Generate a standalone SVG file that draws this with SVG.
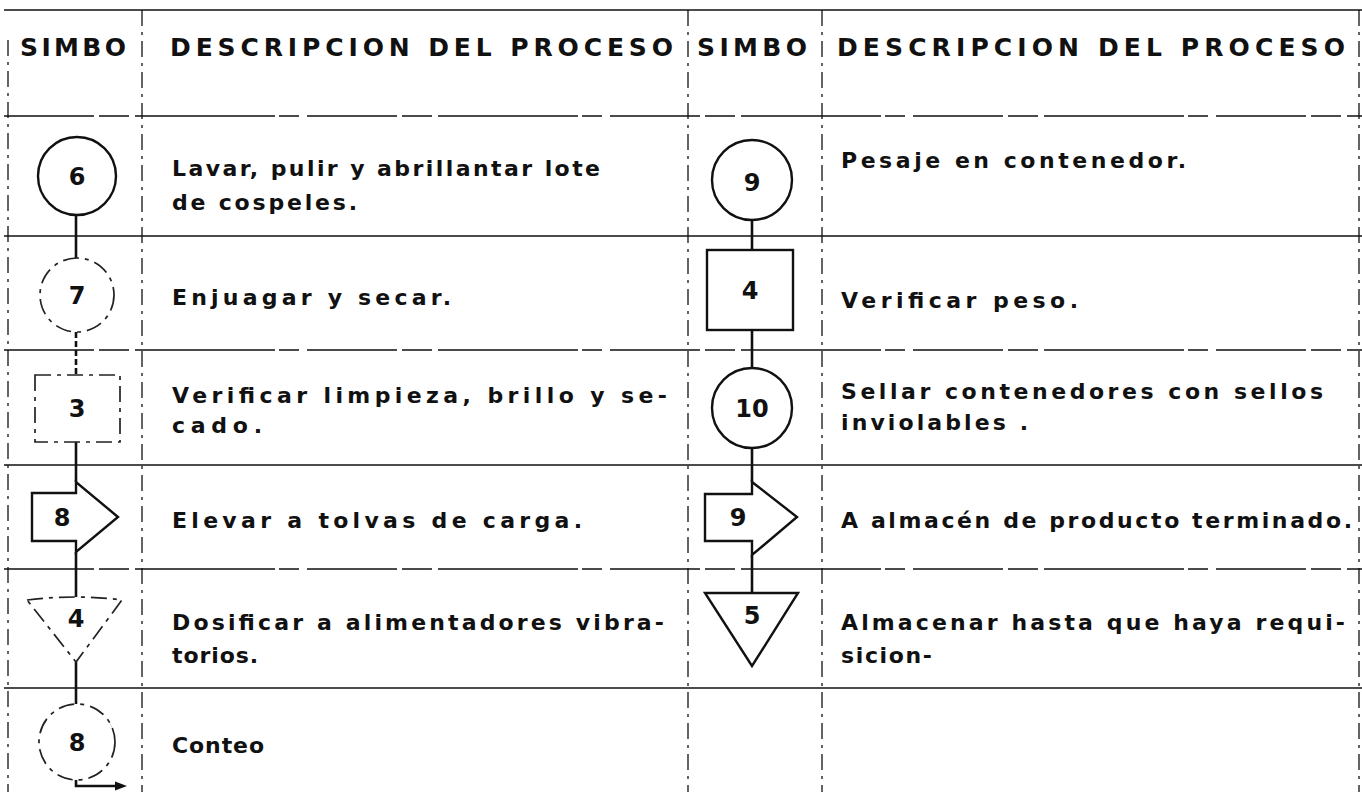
<svg xmlns="http://www.w3.org/2000/svg" width="1362" height="792" viewBox="0 0 1362 792">
<style>
.grid{stroke:#111;stroke-width:1.7;fill:none}
.hd{stroke-dasharray:90 5 30 6 140 4 20 8}
.vd{stroke:#111;stroke-width:1.3;fill:none;stroke-dasharray:16 6 3 6}
.sym{stroke:#111;stroke-width:2.4;fill:#fff}
.faint{stroke:#222;stroke-width:1.7;fill:#fff;stroke-dasharray:16 6 4 6}
.con{stroke:#111;stroke-width:2.6;fill:none}
.t{font-family:"DejaVu Sans","Liberation Sans",sans-serif;font-weight:bold;font-size:22px;fill:#111}
.h{font-family:"DejaVu Sans","Liberation Sans",sans-serif;font-weight:bold;font-size:25px;fill:#111}
.n{font-family:"DejaVu Sans","Liberation Sans",sans-serif;font-weight:bold;font-size:24px;fill:#111;text-anchor:middle}
</style>
<defs>
<marker id="ah" markerWidth="12" markerHeight="12" refX="7" refY="6" orient="auto" markerUnits="userSpaceOnUse">
<path d="M0,1.5 L12,6 L0,10.5 Z" fill="#111"/>
</marker>
</defs>
<rect width="1362" height="792" fill="#fff"/>
<g id="grid">
<line class="grid" x1="4" y1="10" x2="1362" y2="10"/>
<line class="grid hd" x1="4" y1="116" x2="1362" y2="116"/>
<line class="grid" x1="4" y1="236" x2="1362" y2="236"/>
<line class="grid hd" x1="4" y1="350" x2="1362" y2="350"/>
<line class="grid" x1="4" y1="465" x2="1362" y2="465"/>
<line class="grid hd" x1="4" y1="569" x2="1362" y2="569"/>
<line class="grid" x1="4" y1="688" x2="1362" y2="688"/>
<line class="vd" x1="8" y1="40" x2="8" y2="792"/>
<line class="vd" x1="142" y1="10" x2="142" y2="792"/>
<line class="vd" x1="688" y1="10" x2="688" y2="792"/>
<line class="vd" x1="822" y1="10" x2="822" y2="792"/>
<line class="vd" x1="1359" y1="10" x2="1359" y2="792"/>
</g>
<g id="header">
<text class="h" x="20" y="56" textLength="106" lengthAdjust="spacing">SIMBO</text>
<text class="h" x="170" y="56" textLength="503" lengthAdjust="spacing">DESCRIPCION DEL PROCESO</text>
<text class="h" x="697" y="56" textLength="110" lengthAdjust="spacing">SIMBO</text>
<text class="h" x="837" y="56" textLength="508" lengthAdjust="spacing">DESCRIPCION DEL PROCESO</text>
</g>
<g id="connectors">
<line class="con" x1="76" y1="215" x2="76" y2="258"/>
<line class="con" x1="76" y1="332" x2="76" y2="375" stroke-dasharray="6 3"/>
<line class="con" x1="76" y1="442" x2="76" y2="482"/>
<line class="con" x1="76" y1="552" x2="76" y2="600"/>
<line class="con" x1="76" y1="662" x2="76" y2="704"/>
<path class="con" d="M76,780 V786 H122" marker-end="url(#ah)"/>
<line class="con" x1="752" y1="220" x2="752" y2="250"/>
<line class="con" x1="752" y1="330" x2="752" y2="368"/>
<line class="con" x1="752" y1="448" x2="752" y2="482"/>
<line class="con" x1="752" y1="555" x2="752" y2="593"/>
</g>
<g id="node-op6">
<circle class="sym" cx="77" cy="176" r="39"/>
<text class="n" x="77" y="185">6</text>
<text class="t" x="172" y="176" textLength="428" lengthAdjust="spacing">Lavar, pulir y abrillantar lote</text>
<text class="t" x="172" y="210" textLength="185" lengthAdjust="spacing">de cospeles.</text>
</g>
<g id="node-op7">
<circle class="faint" cx="77" cy="295" r="37"/>
<text class="n" x="77" y="304">7</text>
<text class="t" x="172" y="305" textLength="279" lengthAdjust="spacing">Enjuagar y secar.</text>
</g>
<g id="node-insp3">
<rect class="faint" x="35" y="375" width="85" height="67"/>
<text class="n" x="77" y="417">3</text>
<text class="t" x="172" y="403" textLength="495" lengthAdjust="spacing">Verificar limpieza, brillo y se-</text>
<text class="t" x="172" y="433" textLength="90" lengthAdjust="spacing">cado.</text>
</g>
<g id="node-tr8">
<path class="sym" d="M76,493 H32 V541 H76 V552 L118,517 L76,482 Z"/>
<text class="n" x="62" y="526">8</text>
<text class="t" x="172" y="528" textLength="410" lengthAdjust="spacing">Elevar a tolvas de carga.</text>
</g>
<g id="node-alm4">
<path class="faint" d="M27,600 Q76,594 122,600 L76,662 Z"/>
<text class="n" x="76" y="627">4</text>
<text class="t" x="172" y="630" textLength="492" lengthAdjust="spacing">Dosificar a alimentadores vibra-</text>
<text class="t" x="172" y="663" textLength="86" lengthAdjust="spacing">torios.</text>
</g>
<g id="node-op8">
<path class="sym" d="M42,730 A38,38 0 0 1 112,730" fill="none"/>
<circle class="faint" cx="77" cy="742" r="38" fill="none"/>
<text class="n" x="77" y="751">8</text>
<text class="t" x="172" y="753" textLength="92" lengthAdjust="spacing">Conteo</text>
</g>
<g id="node-op9">
<circle class="sym" cx="752" cy="180" r="40"/>
<text class="n" x="752" y="191">9</text>
<text class="t" x="841" y="168" textLength="345" lengthAdjust="spacing">Pesaje en contenedor.</text>
</g>
<g id="node-insp4">
<rect class="sym" x="707" y="250" width="86" height="80"/>
<text class="n" x="750" y="299">4</text>
<text class="t" x="841" y="308" textLength="237" lengthAdjust="spacing">Verificar peso.</text>
</g>
<g id="node-op10">
<circle class="sym" cx="752" cy="408" r="40"/>
<text class="n" x="752" y="417">10</text>
<text class="t" x="841" y="399" textLength="482" lengthAdjust="spacing">Sellar contenedores con sellos</text>
<text class="t" x="841" y="430" textLength="187" lengthAdjust="spacing">inviolables .</text>
</g>
<g id="node-tr9">
<path class="sym" d="M752,494 H705 V541 H752 V555 L797,517 L752,482 Z"/>
<text class="n" x="738" y="526">9</text>
<text class="t" x="841" y="528" textLength="511" lengthAdjust="spacing">A almacén de producto terminado.</text>
</g>
<g id="node-alm5">
<path class="sym" d="M705,593 H798 L752,666 Z"/>
<text class="n" x="752" y="624">5</text>
<text class="t" x="841" y="630" textLength="504" lengthAdjust="spacing">Almacenar hasta que haya requi-</text>
<text class="t" x="841" y="663" textLength="91" lengthAdjust="spacing">sicion-</text>
</g>
</svg>
